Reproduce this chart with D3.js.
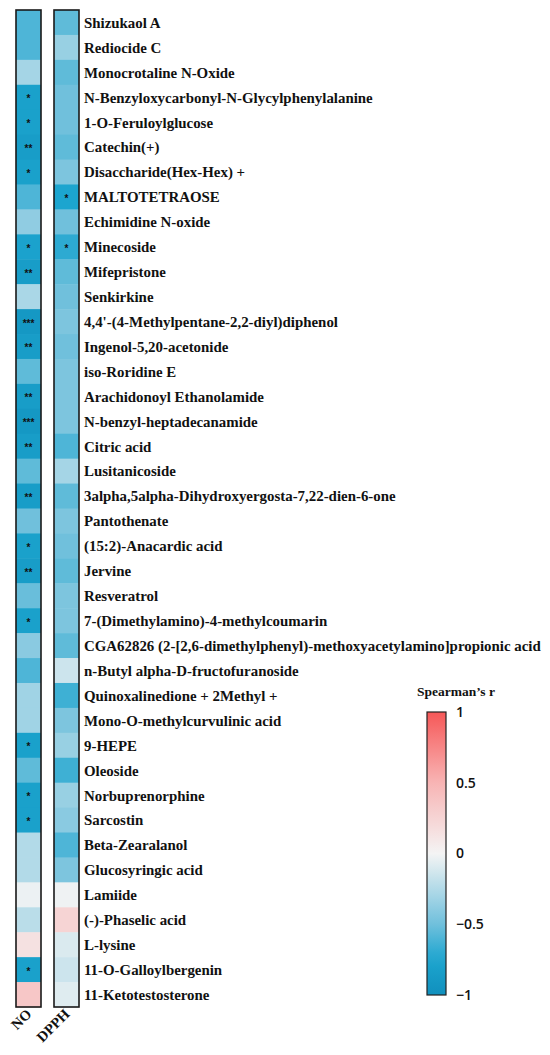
<!DOCTYPE html>
<html>
<head>
<meta charset="utf-8">
<script src="https://cdn.jsdelivr.net/npm/d3@7"></script>
<style>
  body { margin: 0; background: #fff; }
  svg { display: block; }
</style>
</head>
<body>
<svg id="chart" width="550" height="1055"></svg>
<script>
// compounds, top to bottom
const compounds = [
  'Shizukaol A', 'Rediocide C', 'Monocrotaline N-Oxide',
  'N-Benzyloxycarbonyl-N-Glycylphenylalanine', '1-O-Feruloylglucose', 'Catechin(+)',
  'Disaccharide(Hex-Hex) +', 'MALTOTETRAOSE', 'Echimidine N-oxide', 'Minecoside',
  'Mifepristone', 'Senkirkine', "4,4'-(4-Methylpentane-2,2-diyl)diphenol",
  'Ingenol-5,20-acetonide', 'iso-Roridine E', 'Arachidonoyl Ethanolamide',
  'N-benzyl-heptadecanamide', 'Citric acid', 'Lusitanicoside',
  '3alpha,5alpha-Dihydroxyergosta-7,22-dien-6-one', 'Pantothenate',
  '(15:2)-Anacardic acid', 'Jervine', 'Resveratrol', '7-(Dimethylamino)-4-methylcoumarin',
  'CGA62826 (2-[2,6-dimethylphenyl)-methoxyacetylamino]propionic acid',
  'n-Butyl alpha-D-fructofuranoside', 'Quinoxalinedione + 2Methyl +',
  'Mono-O-methylcurvulinic acid', '9-HEPE', 'Oleoside', 'Norbuprenorphine', 'Sarcostin',
  'Beta-Zearalanol', 'Glucosyringic acid', 'Lamiide', '(-)-Phaselic acid', 'L-lysine',
  '11-O-Galloylbergenin', '11-Ketotestosterone'
];
const assays = ['NO', 'DPPH'];

// Spearman's r
const noR = [
  -0.6, -0.6, -0.3, -0.8, -0.8, -0.85, -0.8, -0.6, -0.38, -0.78,
  -0.85, -0.28, -0.9, -0.85, -0.55, -0.85, -0.9, -0.85, -0.55, -0.85,
  -0.5, -0.8, -0.85, -0.52, -0.8, -0.4, -0.6, -0.32, -0.32, -0.8,
  -0.55, -0.8, -0.8, -0.25, -0.25, -0.03, -0.22, 0.15, -0.8, 0.35
];
const dpphR = [
  -0.55, -0.35, -0.55, -0.5, -0.5, -0.55, -0.45, -0.75, -0.5, -0.7,
  -0.55, -0.5, -0.45, -0.5, -0.45, -0.45, -0.45, -0.6, -0.3, -0.55,
  -0.45, -0.5, -0.55, -0.45, -0.45, -0.55, -0.15, -0.65, -0.45, -0.35,
  -0.65, -0.35, -0.4, -0.6, -0.45, -0.02, 0.25, -0.1, -0.15, -0.08
];
// significance marks
const noSig = [
  '', '', '', '*', '*', '**', '*', '', '', '*',
  '**', '', '***', '**', '', '**', '***', '**', '', '**',
  '', '*', '**', '', '*', '', '', '', '', '*',
  '', '*', '*', '', '', '', '', '', '*', ''
];
const dpphSig = [
  '', '', '', '', '', '', '', '*', '', '*',
  '', '', '', '', '', '', '', '', '', '',
  '', '', '', '', '', '', '', '', '', '',
  '', '', '', '', '', '', '', '', '', ''
];
const legendTicks = [1, 0.5, 0, -0.5, -1];

const svg = d3.select('#chart');

const color = d3.scaleLinear()
  .domain([-1, -0.75, -0.5, 0, 0.5, 1])
  .range(['#1190bd', '#1ca5cf', '#70c0dc', '#f4f4f4', '#f8b4b4', '#f65858'])
  .interpolate(d3.interpolateRgb);

const y = d3.scaleBand().domain(d3.range(compounds.length)).range([10, 1007]);
const colW = 25;
const colX = { NO: 16, DPPH: 54 };

const cells = [];
compounds.forEach((c, i) => {
  cells.push({ assay: 'NO', i, r: noR[i], sig: noSig[i] });
  cells.push({ assay: 'DPPH', i, r: dpphR[i], sig: dpphSig[i] });
});

const heat = svg.append('g').attr('class', 'heat');
heat.selectAll('rect.cell').data(cells).enter().append('rect')
  .attr('class', 'cell')
  .attr('x', d => colX[d.assay])
  .attr('y', d => y(d.i))
  .attr('width', colW)
  .attr('height', y.bandwidth() + 0.5)
  .attr('fill', d => color(d.r));

heat.selectAll('text.sig').data(cells.filter(d => d.sig)).enter().append('text')
  .attr('class', 'sig')
  .attr('x', d => colX[d.assay] + colW / 2)
  .attr('y', d => y(d.i) + y.bandwidth() / 2 + 5)
  .attr('text-anchor', 'middle')
  .attr('font-family', 'Liberation Sans, sans-serif')
  .attr('font-weight', 'bold')
  .attr('font-size', 10)
  .attr('fill', '#111')
  .text(d => d.sig);

// column frames
heat.selectAll('rect.frame').data(assays).enter().append('rect')
  .attr('class', 'frame')
  .attr('x', d => colX[d])
  .attr('y', y.range()[0])
  .attr('width', colW)
  .attr('height', y.range()[1] - y.range()[0])
  .attr('fill', 'none')
  .attr('stroke', '#1a1a1a')
  .attr('stroke-width', 1.6);

// row labels
svg.append('g').selectAll('text').data(compounds).enter().append('text')
  .attr('x', 84)
  .attr('y', (d, i) => y(i) + y.bandwidth() / 2)
  .attr('dy', '0.36em')
  .attr('font-family', 'Liberation Serif, Times New Roman, serif')
  .attr('font-weight', 'bold')
  .attr('font-size', 14.9)
  .attr('fill', '#111')
  .text(d => d);

// column labels, rotated
svg.append('g').selectAll('text').data(assays).enter().append('text')
  .attr('transform', d => `translate(${colX[d] + colW / 2 + 4},${y.range()[1] + 8}) rotate(-45)`)
  .attr('text-anchor', 'end')
  .attr('font-family', 'Liberation Serif, Times New Roman, serif')
  .attr('font-weight', 'bold')
  .attr('font-size', 14.5)
  .attr('fill', '#111')
  .text(d => d);

// legend
const ly = d3.scaleLinear().domain([1, -1]).range([712, 995]);
const defs = svg.append('defs');
const grad = defs.append('linearGradient').attr('id', 'cbar')
  .attr('x1', 0).attr('y1', 1).attr('x2', 0).attr('y2', 0);
grad.selectAll('stop').data(d3.range(-1, 1.001, 0.1)).enter().append('stop')
  .attr('offset', d => (d + 1) / 2)
  .attr('stop-color', d => color(d));

const legend = svg.append('g').attr('class', 'legend');
legend.append('rect')
  .attr('x', 427).attr('y', ly(1))
  .attr('width', 19).attr('height', ly(-1) - ly(1))
  .attr('fill', 'url(#cbar)')
  .attr('stroke', '#222').attr('stroke-width', 1.2);

legend.append('text')
  .attr('x', 456).attr('y', 696)
  .attr('text-anchor', 'middle')
  .attr('font-family', 'Liberation Serif, Times New Roman, serif')
  .attr('font-weight', 'bold')
  .attr('font-size', 13.5)
  .attr('fill', '#111')
  .text('Spearman\u2019s r');

const axis = d3.axisRight(ly).tickValues(legendTicks).tickSize(0).tickPadding(0)
  .tickFormat(d => d3.format('')(d).replace('-', '\u2212'));
legend.append('g')
  .attr('transform', 'translate(456,0)')
  .call(axis)
  .call(g => g.select('.domain').remove())
  .call(g => g.selectAll('text')
    .attr('font-family', 'Open Sans, Noto Sans, sans-serif')
    .attr('font-weight', 600)
    .attr('font-size', 14)
    .attr('fill', '#111'));
</script>
</body>
</html>
